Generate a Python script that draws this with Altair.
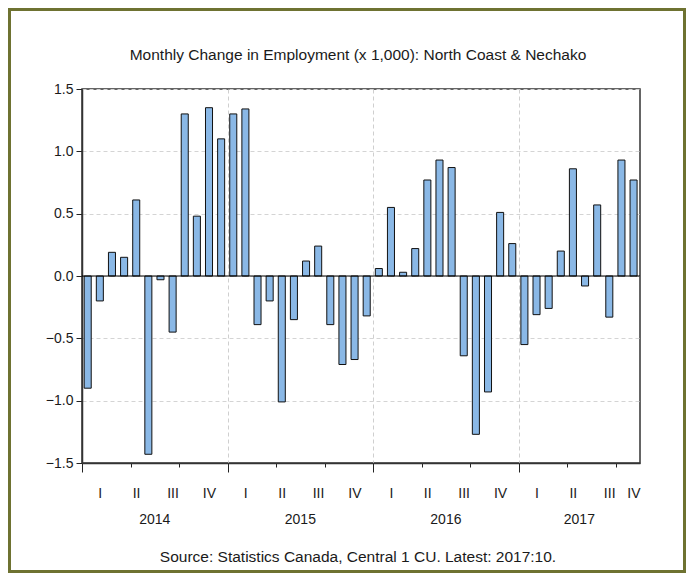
import altair as alt
import pandas as pd

# ---- data -------------------------------------------------------------
months = [str(p) for p in pd.period_range("2014-01", "2017-10", freq="M")]
values = [
    -0.90, -0.20, 0.19, 0.15, 0.61, -1.43, -0.03, -0.45, 1.30, 0.48, 1.35, 1.10,   # 2014
    1.30, 1.34, -0.39, -0.20, -1.01, -0.35, 0.12, 0.24, -0.39, -0.71, -0.67, -0.32,  # 2015
    0.06, 0.55, 0.03, 0.22, 0.77, 0.93, 0.87, -0.64, -1.27, -0.93, 0.51, 0.26,     # 2016
    -0.55, -0.31, -0.26, 0.20, 0.86, -0.08, 0.57, -0.33, 0.93, 0.77,               # 2017
]
quarter_names = ["I", "II", "III", "IV"]
y_ticks = [-1.5, -1.0, -0.5, 0.0, 0.5, 1.0, 1.5]
title_text = "Monthly Change in Employment (x 1,000): North Coast & Nechako"
source_text = "Source: Statistics Canada, Central 1 CU. Latest: 2017:10."

# ---- tables built from the arrays -------------------------------------
df = pd.DataFrame({"month": months, "value": values})
df["i"] = range(len(df))
df["year"] = df["month"].str[:4]
df["q"] = (df["month"].str[5:7].astype(int) - 1) // 3

qdf = (df.groupby(["year", "q"])["i"].agg(["min", "max"]).reset_index())
qdf["center"] = (qdf["min"] + qdf["max"] + 1) / 2
qdf["label"] = qdf["q"].map(lambda k: quarter_names[k])

ydf = df.groupby("year")["i"].agg(["min", "max"]).reset_index()
ydf["center"] = (ydf["min"] + ydf["max"] + 1) / 2

n = len(months)
W, H = 558, 374
FONT = "Liberation Sans"
TXT = "#1a1a1a"

x_scale = alt.Scale(domain=[0, n], nice=False, zero=False)
y_scale = alt.Scale(domain=[-1.5, 1.5], nice=False)

grid_test = "datum.value % 12 === 0 && datum.value > 0 && datum.value < " + str(n)

x_axis = alt.Axis(
    values=list(range(n + 1)), labels=False, title=None,
    tickSize={"condition": {"test": "datum.value % 3 === 0", "value": 9}, "value": 4},
    tickColor="#222222", domainColor="#333333", domainWidth=1.5,
    grid=True, gridDash=[4, 3], gridColor="#cfcfcf",
    gridOpacity={"condition": {"test": grid_test, "value": 1}, "value": 0},
)
y_axis = alt.Axis(
    values=y_ticks, format=".1f", title=None, tickSize=6, labelPadding=3,
    labelFont=FONT, labelFontSize=14, labelColor=TXT, tickColor="#222222",
    domainColor="#333333", domainWidth=1.5,
    grid=True, gridDash=[4, 3], gridColor="#d4d4d4",
)

bars = alt.Chart(df).transform_calculate(
    x0="datum.i + 0.18", x1="datum.i + 0.76"
).mark_bar(fill="#8ab8e6", stroke="#111111", strokeWidth=1).encode(
    x=alt.X("x0:Q", scale=x_scale, axis=x_axis),
    x2="x1:Q",
    y=alt.Y("value:Q", scale=y_scale, axis=y_axis),
    y2=alt.datum(0),
)

zero = alt.Chart(df.head(1)).mark_rule(color="#000000", strokeWidth=1.2).encode(
    y=alt.datum(0)
)

qlabels = alt.Chart(qdf).mark_text(
    font=FONT, fontSize=14, color=TXT, baseline="middle", align="center"
).encode(x=alt.X("center:Q"), y=alt.value(H + 31), text="label:N")

ylabels = alt.Chart(ydf).mark_text(
    font=FONT, fontSize=14, color=TXT, baseline="middle", align="center"
).encode(x=alt.X("center:Q"), y=alt.value(H + 57), text="year:N")

source = alt.Chart(pd.DataFrame({"t": [source_text]})).mark_text(
    font=FONT, fontSize=15.5, color=TXT, baseline="middle", align="center"
).encode(x=alt.value(W / 2 - 3), y=alt.value(H + 94), text="t:N")

title = alt.Chart(pd.DataFrame({"t": [title_text]})).mark_text(
    font=FONT, fontSize=15.5, color=TXT, baseline="middle", align="center"
).encode(x=alt.value(W / 2 - 3), y=alt.value(-34), text="t:N")

frame = alt.Chart(pd.DataFrame({"t": [0]})).mark_rect(
    filled=False, stroke="#6e7231", strokeWidth=3
).encode(
    x=alt.value(-72.5), x2=alt.value(602.5), y=alt.value(-79.5), y2=alt.value(482.5)
)

chart = alt.layer(bars, zero, qlabels, ylabels, source, title, frame).properties(
    width=W, height=H,
    background="white",
    autosize=alt.AutoSizeParams(type="none"),
    padding={"left": 74, "top": 81, "right": 46, "bottom": 110},
).configure_view(stroke="#333333", strokeWidth=1.5)

chart.save("out.html", embed_options={"renderer": "svg", "actions": False})
